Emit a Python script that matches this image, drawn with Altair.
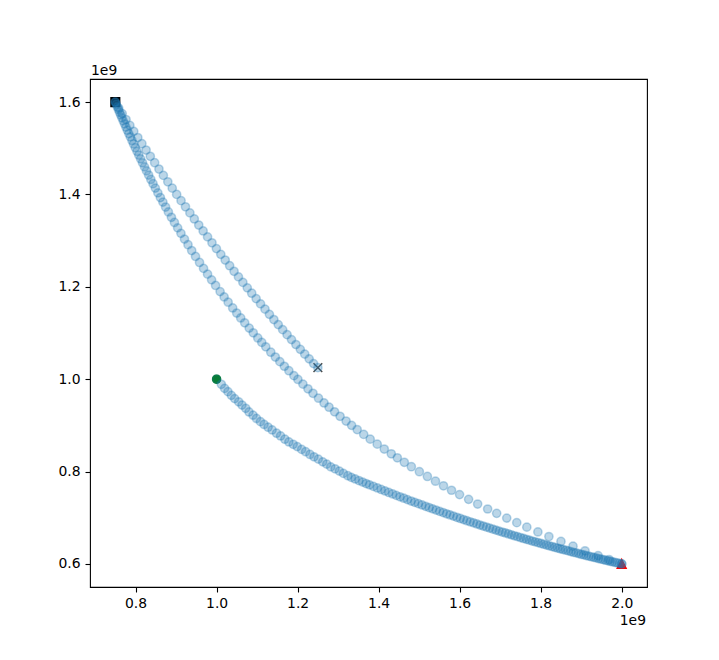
import altair as alt
import pandas as pd

# ---- data (units of 1e9) ----
# path 1: start (green) -> red triangle
lower_x = [1.000, 1.0117, 1.0198, 1.0280, 1.0364, 1.0446, 1.0545, 1.0627, 1.0719, 1.0800,
           1.0900, 1.0984, 1.1083, 1.1172, 1.1271, 1.1370, 1.1480, 1.1579, 1.1685, 1.1784,
           1.1891, 1.1990, 1.2099, 1.2198, 1.2305, 1.2404, 1.2511, 1.2620, 1.2719, 1.2818,
           1.2924, 1.3031, 1.3130, 1.3239,
           1.3326, 1.3420, 1.3514, 1.3606, 1.3693, 1.3775, 1.3871, 1.3968, 1.4062, 1.4156,
           1.4250, 1.4345, 1.4436, 1.4528, 1.4620, 1.4711, 1.4803, 1.4892, 1.4981, 1.5071,
           1.5160, 1.5247, 1.5333, 1.5420, 1.5507, 1.5594, 1.5678, 1.5762, 1.5846, 1.5931,
           1.6015, 1.6097, 1.6178, 1.6260, 1.6342, 1.6424, 1.6503, 1.6582, 1.6662, 1.6741,
           1.6820, 1.6897, 1.6974, 1.7051, 1.7128, 1.7204, 1.7279, 1.7353, 1.7428, 1.7502,
           1.7576, 1.7648, 1.7720, 1.7792, 1.7864, 1.7936, 1.8005, 1.8074, 1.8144, 1.8213,
           1.8283, 1.8349, 1.8416, 1.8483, 1.8550, 1.8617, 1.8682, 1.8746, 1.8810, 1.8875,
           1.8939, 1.9001, 1.9063, 1.9125, 1.9187, 1.9249, 1.9309, 1.9368, 1.9428, 1.9487,
           1.9546, 1.9603, 1.9660, 1.9717, 1.9774, 1.9831, 1.9886, 1.9941, 2.0000]
lower_y = [1.000, 0.989, 0.980, 0.973, 0.965, 0.958, 0.951, 0.944, 0.937, 0.929,
           0.922, 0.915, 0.908, 0.902, 0.896, 0.890, 0.883, 0.877, 0.870, 0.864,
           0.859, 0.854, 0.848, 0.843, 0.837, 0.832, 0.827, 0.821, 0.816, 0.810,
           0.806, 0.801, 0.796, 0.791,
           0.7873, 0.7839, 0.7805, 0.7772, 0.7741, 0.7712, 0.7678, 0.7644, 0.7612, 0.7579,
           0.7547, 0.7515, 0.7484, 0.7453, 0.7423, 0.7393, 0.7362, 0.7333, 0.7305, 0.7276,
           0.7247, 0.7220, 0.7192, 0.7165, 0.7138, 0.7112, 0.7086, 0.7060, 0.7035, 0.7009,
           0.6984, 0.6960, 0.6936, 0.6912, 0.6889, 0.6865, 0.6842, 0.6820, 0.6798, 0.6775,
           0.6753, 0.6732, 0.6711, 0.6690, 0.6670, 0.6649, 0.6629, 0.6609, 0.6590, 0.6571,
           0.6551, 0.6533, 0.6515, 0.6496, 0.6478, 0.6460, 0.6443, 0.6426, 0.6409, 0.6392,
           0.6376, 0.6360, 0.6344, 0.6328, 0.6312, 0.6297, 0.6282, 0.6267, 0.6252, 0.6238,
           0.6223, 0.6209, 0.6196, 0.6182, 0.6169, 0.6155, 0.6142, 0.6130, 0.6117, 0.6104,
           0.6092, 0.6080, 0.6068, 0.6057, 0.6045, 0.6034, 0.6023, 0.6012, 0.6000]

# path 2: red triangle -> black square
middle_x = [2.0000, 1.9690, 1.9418, 1.9095, 1.8798, 1.8501, 1.8203, 1.7931, 1.7658, 1.7410,
            1.7162, 1.6914, 1.6691, 1.6444, 1.6221, 1.5998, 1.5799, 1.5601, 1.5403, 1.5204,
            1.5006, 1.4808, 1.4634, 1.4461, 1.4312, 1.4139, 1.3965, 1.3792, 1.3631, 1.3470,
            1.3333, 1.3197, 1.3048, 1.2912, 1.2776, 1.2652, 1.2515, 1.2379, 1.2255, 1.2131,
            1.2007, 1.1908, 1.1784, 1.1673, 1.1561, 1.1450, 1.1338, 1.1214, 1.1115, 1.1016,
            1.0905, 1.0805, 1.0694, 1.0595, 1.0496, 1.0397, 1.0285, 1.0186, 1.0087, 0.9975,
            0.9876, 0.9777, 0.9678, 0.9579, 0.9480, 0.9385, 0.9294, 0.9207, 0.9120, 0.9038,
            0.8959, 0.8885, 0.8810, 0.8741, 0.8674, 0.8612, 0.8550, 0.8488, 0.8431, 0.8377,
            0.8322, 0.8270, 0.8221, 0.8171, 0.8124, 0.8079, 0.8035, 0.7993, 0.7950, 0.7911,
            0.7871, 0.7834, 0.7797, 0.7762, 0.7727, 0.7695, 0.7663, 0.7633, 0.7604, 0.7576,
            0.7549, 0.7522, 0.7500]
middle_y = [0.6000, 0.6094, 0.6180, 0.6284, 0.6384, 0.6486, 0.6592, 0.6692, 0.6796, 0.6893,
            0.6992, 0.7095, 0.7189, 0.7297, 0.7398, 0.7501, 0.7595, 0.7692, 0.7791, 0.7893,
            0.7997, 0.8104, 0.8200, 0.8298, 0.8385, 0.8487, 0.8593, 0.8701, 0.8804, 0.8909,
            0.9000, 0.9093, 0.9197, 0.9294, 0.9393, 0.9485, 0.9588, 0.9694, 0.9792, 0.9892,
            0.9994, 1.0077, 1.0183, 1.0280, 1.0380, 1.0480, 1.0584, 1.0701, 1.0796, 1.0893,
            1.1004, 1.1106, 1.1221, 1.1326, 1.1433, 1.1542, 1.1667, 1.1781, 1.1897, 1.2030,
            1.2151, 1.2274, 1.2399, 1.2527, 1.2658, 1.2786, 1.2912, 1.3033, 1.3158, 1.3277,
            1.3394, 1.3506, 1.3621, 1.3728, 1.3834, 1.3934, 1.4035, 1.4138, 1.4233, 1.4325,
            1.4420, 1.4510, 1.4597, 1.4686, 1.4771, 1.4853, 1.4934, 1.5013, 1.5094, 1.5169,
            1.5246, 1.5318, 1.5391, 1.5460, 1.5530, 1.5594, 1.5660, 1.5721, 1.5781, 1.5839,
            1.5896, 1.5953, 1.6000]

# path 3: black square -> end (x marker)
upper_x = [0.7500, 0.7584, 0.7670, 0.7765, 0.7859, 0.7955, 0.8055, 0.8156, 0.8260, 0.8364,
           0.8471, 0.8577, 0.8686, 0.8796, 0.8905, 0.9014, 0.9123, 0.9232, 0.9341, 0.9450,
           0.9559, 0.9668, 0.9777, 0.9886, 0.9995, 1.0104, 1.0213, 1.0322, 1.0431, 1.0540,
           1.0649, 1.0758, 1.0867, 1.0976, 1.1086, 1.1195, 1.1304, 1.1413, 1.1522, 1.1631,
           1.1740, 1.1849, 1.1958, 1.2067, 1.2176, 1.2285, 1.2394, 1.2500]
upper_y = [1.6000, 1.5870, 1.5751, 1.5623, 1.5495, 1.5366, 1.5233, 1.5099, 1.4962, 1.4826,
           1.4688, 1.4551, 1.4412, 1.4274, 1.4137, 1.4001, 1.3866, 1.3733, 1.3600, 1.3469,
           1.3338, 1.3209, 1.3081, 1.2954, 1.2828, 1.2703, 1.2580, 1.2457, 1.2336, 1.2215,
           1.2096, 1.1978, 1.1861, 1.1745, 1.1630, 1.1516, 1.1404, 1.1292, 1.1182, 1.1072,
           1.0964, 1.0857, 1.0751, 1.0646, 1.0542, 1.0440, 1.0338, 1.0250]

# special points
start_pt = (1.00, 1.00)      # green circle
turn_pt = (2.00, 0.60)       # red triangle
extreme_pt = (0.75, 1.60)    # black square
end_pt = (1.25, 1.025)       # black x

x_ticks = [0.8, 1.0, 1.2, 1.4, 1.6, 1.8, 2.0]
y_ticks = [0.6, 0.8, 1.0, 1.2, 1.4, 1.6]
x_domain = [0.6875, 2.0625]
y_domain = [0.55, 1.65]

# ---- build ----
path = pd.DataFrame({
    "x": lower_x + middle_x + upper_x,
    "y": lower_y + middle_y + upper_y,
})

FONT = "DejaVu Sans"
xs = alt.Scale(domain=x_domain, nice=False, zero=False)
ys = alt.Scale(domain=y_domain, nice=False, zero=False)
xaxis = alt.Axis(values=x_ticks, format=".1f", grid=False, title=None, domain=False,
                 tickColor="black", tickSize=5, tickWidth=1.1, labelPadding=4,
                 labelFont=FONT, labelFontSize=13.9, labelColor="black")
yaxis = alt.Axis(values=y_ticks, format=".1f", grid=False, title=None, domain=False,
                 tickColor="black", tickSize=5, tickWidth=1.1, labelPadding=5,
                 labelFont=FONT, labelFontSize=13.9, labelColor="black")


def point_layer(pt, **mark):
    df = pd.DataFrame({"x": [pt[0]], "y": [pt[1]]})
    return alt.Chart(df).mark_point(**mark).encode(
        x=alt.X("x:Q", scale=xs, axis=xaxis),
        y=alt.Y("y:Q", scale=ys, axis=yaxis),
    )


green = point_layer(start_pt, shape="circle", size=64, fill="green", stroke="green",
                    strokeWidth=1.4, fillOpacity=1, strokeOpacity=1)
red = point_layer(turn_pt, shape="M0,-1L-1,1L1,1Z", size=80, fill="red", stroke="red",
                  strokeWidth=1.4, fillOpacity=1, strokeOpacity=1)
black = point_layer(extreme_pt, shape="square", size=76, fill="black", stroke="black",
                    strokeWidth=1.4, fillOpacity=1, strokeOpacity=1)
cross = point_layer(end_pt, shape="M-1,-1L1,1M-1,1L1,-1", size=76, fill="transparent",
                    stroke="black", strokeWidth=1.5, strokeOpacity=1)

dots = alt.Chart(path).mark_point(
    shape="circle", size=68, fill="#1f77b4", stroke="#1f77b4",
    fillOpacity=0.3, strokeOpacity=0.3, strokeWidth=1.5,
).encode(
    x=alt.X("x:Q", scale=xs, axis=xaxis),
    y=alt.Y("y:Q", scale=ys, axis=yaxis),
)

offset_top = alt.Chart(pd.DataFrame({"t": ["1e9"]})).mark_text(
    align="left", baseline="alphabetic", font=FONT, fontSize=13.9, color="black"
).encode(x=alt.value(1), y=alt.value(-4), text="t:N")

offset_bottom = alt.Chart(pd.DataFrame({"t": ["1e9"]})).mark_text(
    align="right", baseline="alphabetic", font=FONT, fontSize=13.9, color="black"
).encode(x=alt.value(556), y=alt.value(546), text="t:N")

chart = alt.layer(green, red, black, cross, dots, offset_top, offset_bottom).properties(
    width=557, height=508,
    padding={"left": 82, "top": 71, "right": 60, "bottom": 65},
    autosize="none",
).configure_view(stroke="black", strokeWidth=1.1)

chart.save("out.html", embed_options={"renderer": "svg", "actions": False})
